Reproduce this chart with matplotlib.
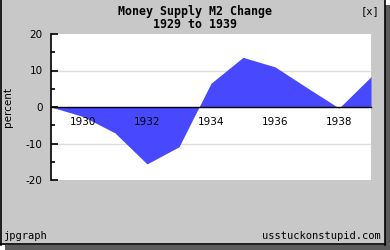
import matplotlib
matplotlib.use("Agg")
import matplotlib.pyplot as plt
from matplotlib.patches import Rectangle
from matplotlib.lines import Line2D

years = [1929, 1930, 1931, 1932, 1933, 1934, 1935, 1936, 1937, 1938, 1939]
m2_change = [0.0, -2.6, -7.1, -15.6, -10.9, 6.5, 13.6, 11.0, 5.3, -0.3, 8.3]
xtick_years = [1930, 1932, 1934, 1936, 1938]
ytick_vals = [-20, -10, 0, 10, 20]

W, H = 390, 250
fig = plt.figure(figsize=(W / 100, H / 100), dpi=100)
fig.patch.set_facecolor("white")

def px(x0, y0, x1, y1):
    # pixel box (top-left origin) -> figure fraction rect
    return (x0 / W, 1 - y1 / H, (x1 - x0) / W, (y1 - y0) / H)

# shadow
x, y, w, h = px(5, 5, 390, 250)
fig.add_artist(Rectangle((x, y), w, h, transform=fig.transFigure, facecolor="#5c5c5c", edgecolor="none", zorder=0))
# main frame
x, y, w, h = px(0, 0, 385, 245)
fig.add_artist(Rectangle((x, y), w, h, transform=fig.transFigure, facecolor="#c8c8c8", edgecolor="none", zorder=0))
# border lines (left, right, bottom)
def fl(xs, ys, **kw):
    fig.add_artist(Line2D([v / W for v in xs], [1 - v / H for v in ys], transform=fig.transFigure, color="black", lw=1.2, zorder=1, **kw))
fl([0.5, 0.5], [0, 244.5])
fl([384.5, 384.5], [0, 244.5])
fl([0, 385], [244.2, 244.2])

ax = fig.add_axes(px(51, 34, 371, 180))
ax.set_facecolor("white")
ax.set_axisbelow(False)
ax.fill_between(years, m2_change, 0, color="#4848ff", linewidth=0, antialiased=False, zorder=2)
ax.set_xlim(1929, 1939)
ax.set_ylim(-20, 20)

for sp in ["top", "right"]:
    ax.spines[sp].set_visible(False)
ax.spines["left"].set_color("black")
ax.spines["left"].set_linewidth(1.2)
ax.spines["bottom"].set_position(("data", 0))
ax.spines["bottom"].set_color("black")
ax.spines["bottom"].set_linewidth(1.0)
ax.spines["bottom"].set_zorder(3)

ax.set_yticks(ytick_vals)
ax.set_yticklabels([str(v) for v in ytick_vals])
ax.set_yticks([-15, -5, 5, 15], minor=True)
ax.tick_params(axis="y", which="major", direction="in", length=5, width=1.2, pad=6, labelsize=7.5, colors="black")
ax.tick_params(axis="y", which="minor", direction="in", length=3, width=1.2)

ax.set_xticks(xtick_years)
ax.set_xticklabels([str(v) for v in xtick_years])
ax.tick_params(axis="x", which="both", length=0, pad=7, labelsize=7.5)

for v in [-10, 10]:
    ax.axhline(v, color="#dcdcdc", lw=1.0, zorder=1)

ax.set_ylabel("percent", fontsize=7.5)
ax.yaxis.set_label_coords((13 - 51) / 320, 0.5)

fig.text(195 / W, 1 - 11 / H, "Money Supply M2 Change", ha="center", va="center",
         family="DejaVu Sans Mono", fontweight="bold", fontsize=8.4)
fig.text(195 / W, 1 - 24 / H, "1929 to 1939", ha="center", va="center",
         family="DejaVu Sans Mono", fontweight="bold", fontsize=8.4)
fig.text(379 / W, 1 - 11 / H, "[x]", ha="right", va="center", family="DejaVu Sans Mono", fontsize=7.5)
fig.text(3 / W, 1 - 236 / H, "jpgraph", ha="left", va="center", family="DejaVu Sans Mono", fontsize=7.5)
fig.text(381 / W, 1 - 236 / H, "usstuckonstupid.com", ha="right", va="center", family="DejaVu Sans Mono", fontsize=7.5)

fig.savefig("out.png", dpi=100)
